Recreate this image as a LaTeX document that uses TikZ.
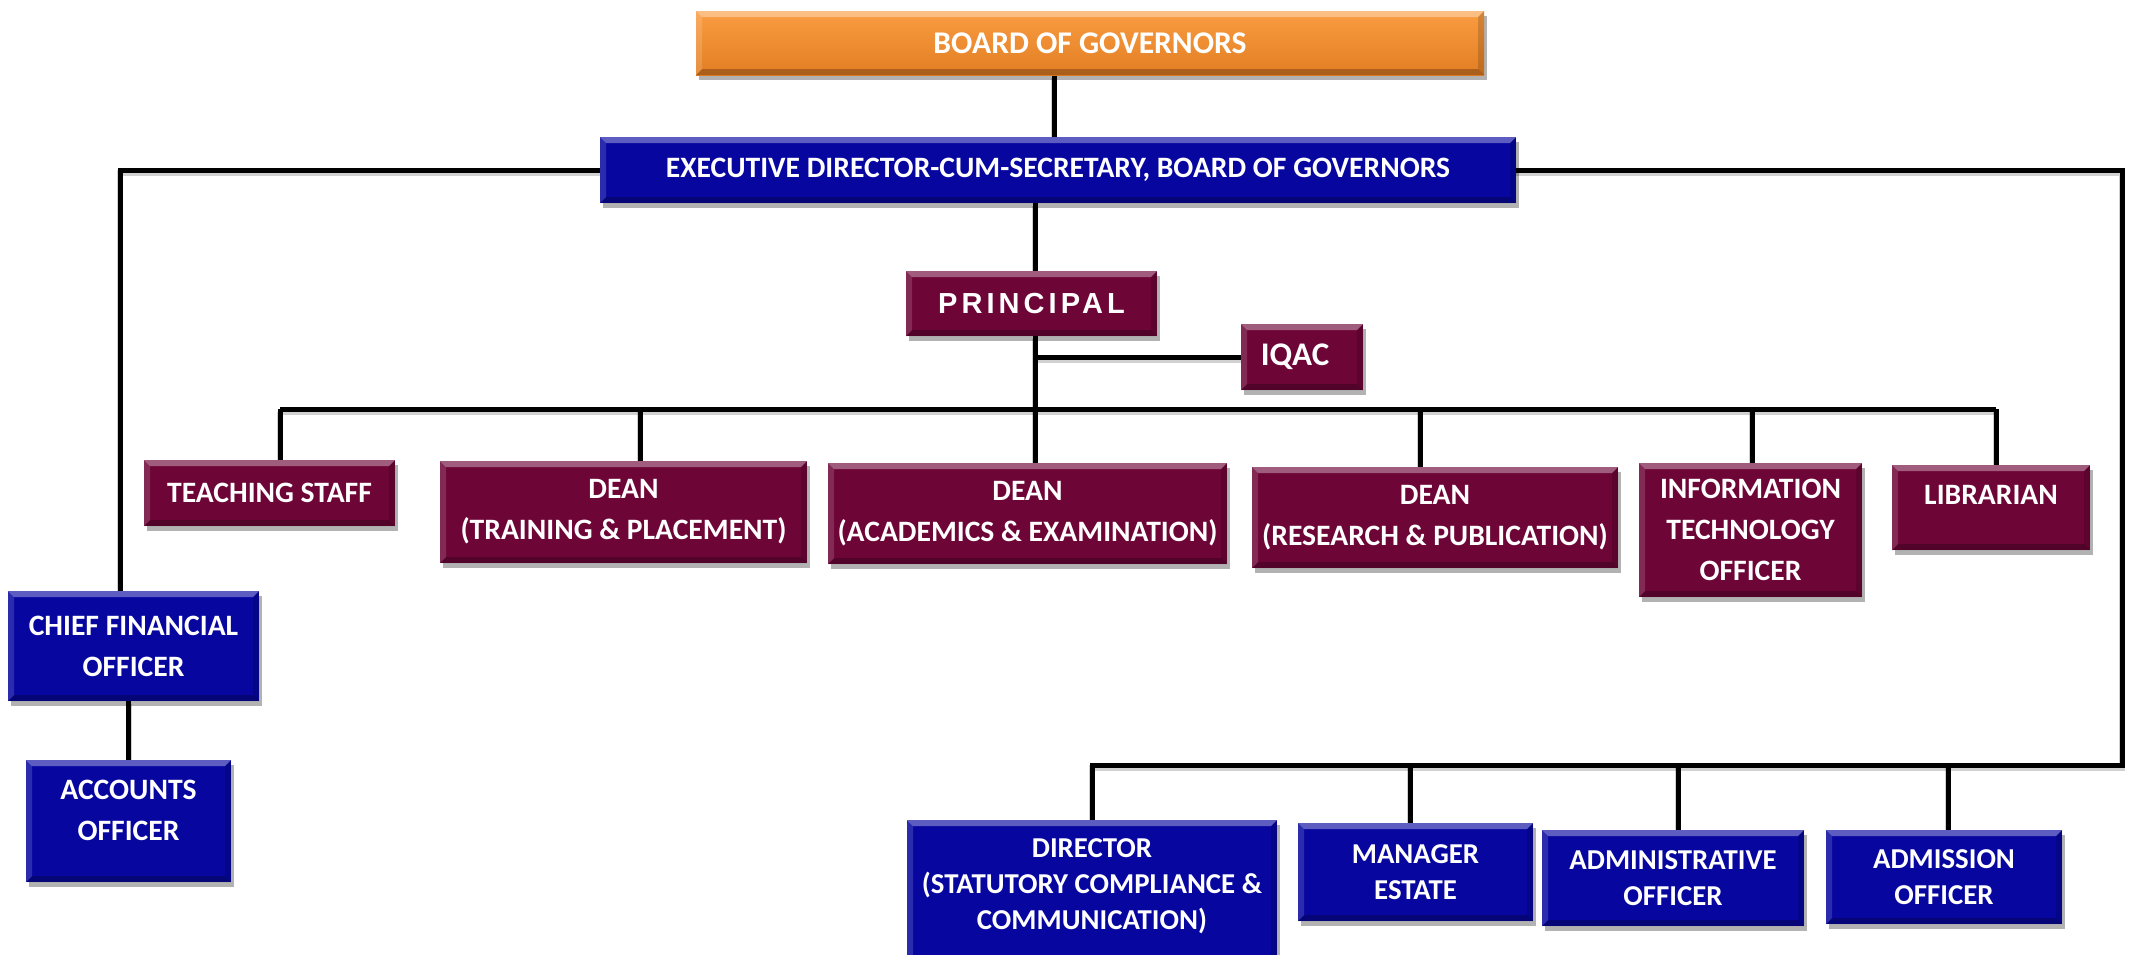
\documentclass[tikz,border=0pt]{standalone}
\usepackage{fontspec}
\setmainfont{Carlito}
\newfontfamily\arialls{Liberation Sans}[LetterSpace=14]
\usetikzlibrary{shadows,backgrounds}
\definecolor{maroonC}{HTML}{6E0537}
\definecolor{blueC}{HTML}{0707A0}
\definecolor{orangeT}{HTML}{FA9D42}
\definecolor{orangeB}{HTML}{E27D22}
\tikzset{
  bevel/.style={path picture={
    \fill[white,opacity=.35] (path picture bounding box.north west) -- (path picture bounding box.north east) -- ([xshift=-3pt,yshift=-3pt]path picture bounding box.north east) -- ([xshift=3pt,yshift=-3pt]path picture bounding box.north west) -- cycle;
    \fill[black,opacity=.25] (path picture bounding box.south west) -- (path picture bounding box.south east) -- ([xshift=-3pt,yshift=3pt]path picture bounding box.south east) -- ([xshift=3pt,yshift=3pt]path picture bounding box.south west) -- cycle;
    \fill[white,opacity=.15] (path picture bounding box.north west) -- (path picture bounding box.south west) -- ([xshift=3pt,yshift=3pt]path picture bounding box.south west) -- ([xshift=3pt,yshift=-3pt]path picture bounding box.north west) -- cycle;
    \fill[black,opacity=.15] (path picture bounding box.north east) -- (path picture bounding box.south east) -- ([xshift=-3pt,yshift=3pt]path picture bounding box.south east) -- ([xshift=-3pt,yshift=-3pt]path picture bounding box.north east) -- cycle;
  }},
  box/.style={rectangle, inner sep=0pt, text=white, align=center,
    font=\bfseries\fontsize{14.8}{20.5}\selectfont, bevel,
    drop shadow={shadow xshift=1.5pt, shadow yshift=-2.5pt, opacity=.3, fill=black}},
  mbox/.style={box, fill=maroonC},
  bbox/.style={box, fill=blueC},
  obox/.style={box, top color=orangeT, bottom color=orangeB, font=\bfseries\fontsize{15.8}{20}\selectfont},
  smalltext/.style={font=\bfseries\fontsize{14.4}{18}\selectfont},
  lbl/.style={text=white, align=center, inner sep=0pt, font=\bfseries\fontsize{14.8}{20.5}\selectfont},
  link/.style={line width=2.5pt, black, preaction={draw=black, opacity=.18, line width=3pt, transform canvas={yshift=-1.5pt}}}
}
\newcommand\orgbox[8][]{%
  \pgfmathsetmacro\bw{(#6-#4)*0.5}%
  \pgfmathsetmacro\bh{(#7-#5)*0.5}%
  \node[#3, minimum width=\bw pt, minimum height=\bh pt, #1] (#2) at ({(#4+#6)/2},{(#5+#7)/2}) {#8};}
\begin{document}
\begin{tikzpicture}[x=0.5pt,y=-0.5pt]
\useasboundingbox (0,0) rectangle (2134,954);
\clip (0,0) rectangle (2134,954);
% boxes
\orgbox{board}{obox}{696}{11}{1484}{75}{BOARD OF GOVERNORS}
\orgbox{exec}{bbox}{600}{137}{1516}{203}{EXECUTIVE DIRECTOR-CUM-SECRETARY, BOARD OF GOVERNORS}
\orgbox[font=\arialls\bfseries\fontsize{14.5}{18}\selectfont]{prin}{mbox}{906}{271}{1157}{336}{PRINCIPAL}
\orgbox{iqac}{mbox}{1241}{324}{1363}{390}{}
\node[lbl,font=\bfseries\fontsize{16.5}{20}\selectfont] at ([xshift=-3.5pt]iqac.center) {IQAC};
\orgbox{teach}{mbox}{144}{460}{395}{526}{TEACHING STAFF}
\orgbox{deantp}{mbox}{440}{461}{807}{563}{DEAN\\(TRAINING \& PLACEMENT)}
\orgbox{deanae}{mbox}{828}{463}{1227}{564}{DEAN\\(ACADEMICS \& EXAMINATION)}
\orgbox{deanrp}{mbox}{1252}{467}{1618}{568}{DEAN\\(RESEARCH \& PUBLICATION)}
\orgbox{it}{mbox}{1639}{463}{1862}{597}{INFORMATION\\TECHNOLOGY\\OFFICER}
\orgbox{lib}{mbox}{1892}{465}{2090}{550}{}
\node[lbl] at ([yshift=6.5pt]lib.center) {LIBRARIAN};
\orgbox{cfo}{bbox}{8}{591}{259}{701}{CHIEF FINANCIAL\\OFFICER}
\orgbox{acc}{bbox}{26}{760}{231}{882}{}
\node[lbl] at ([yshift=5.5pt]acc.center) {ACCOUNTS\\OFFICER};
\orgbox{dir}{bbox}{907}{820}{1277}{975}{}
\node[lbl,smalltext] at ([yshift=5.5pt]dir.center) {DIRECTOR\\(STATUTORY COMPLIANCE \&\\COMMUNICATION)};
\orgbox[smalltext]{man}{bbox}{1298}{823}{1533}{921}{MANAGER\\ESTATE}
\orgbox[smalltext]{adm}{bbox}{1542}{830}{1804}{926}{ADMINISTRATIVE\\OFFICER}
\orgbox[smalltext]{admis}{bbox}{1826}{830}{2062}{924}{ADMISSION\\OFFICER}
% connectors
\begin{scope}[on background layer]
\fill[white] (0,0) rectangle (2134,954);
\coordinate (xBE) at (1054,0);
\coordinate (xP) at (1035,0);
\coordinate (xL) at (120,0);
\coordinate (xR) at (2122,765);
\coordinate (yB1) at (0,409);
\coordinate (dT) at (280,409);
\coordinate (dTP) at (640,409);
\coordinate (dRP) at (1420,409);
\coordinate (dIT) at (1752,409);
\coordinate (dL) at (1996,409);
\coordinate (eD) at (1092,765);
\coordinate (eM) at (1410,765);
\coordinate (eA) at (1678,765);
\coordinate (eS) at (1948,765);
\draw[link] (board.south -| xBE) -- (exec.north -| xBE);
\draw[link] (exec.west) -| (cfo.north -| xL);
\draw[link] (exec.east) -| (xR) -- (eD) -- (eD |- dir.north);
\draw[link] (eM) -- (eM |- man.north);
\draw[link] (eA) -- (eA |- adm.north);
\draw[link] (eS) -- (eS |- admis.north);
\draw[link] (exec.south -| xP) -- (prin.north -| xP);
\draw[link] (prin.south -| xP) -- (deanae.north -| xP);
\draw[link] (xP |- iqac.west) -- (iqac.west);
\draw[link] (dT) -- (dL);
\draw[link] (dT) -- (dT |- teach.north);
\draw[link] (dTP) -- (dTP |- deantp.north);
\draw[link] (dRP) -- (dRP |- deanrp.north);
\draw[link] (dIT) -- (dIT |- it.north);
\draw[link] (dL) -- (dL |- lib.north);
\draw[link] (acc.north |- cfo.south) -- (acc.north);
\end{scope}
\end{tikzpicture}
\end{document}
